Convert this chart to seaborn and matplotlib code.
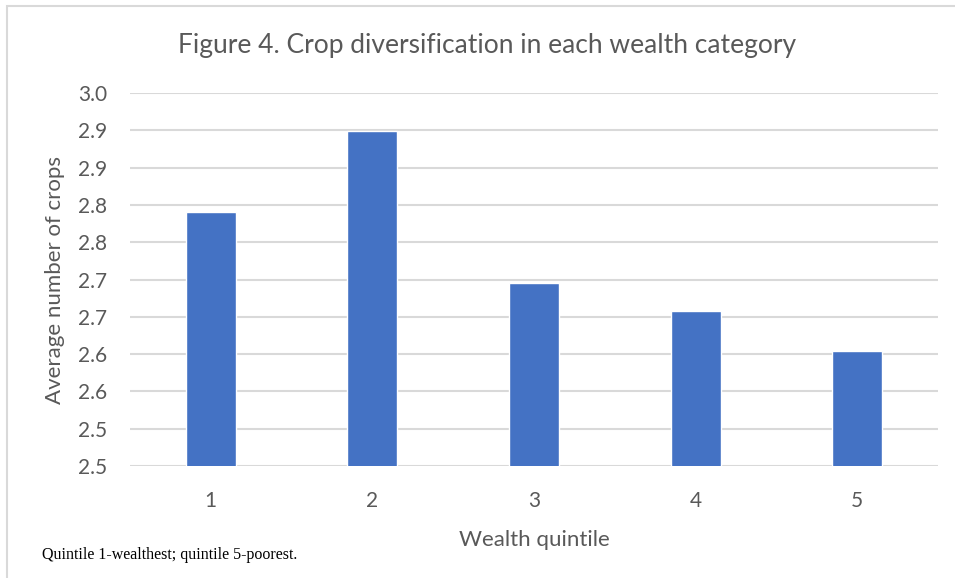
import numpy as np
import pandas as pd
import matplotlib
matplotlib.use("Agg")
from matplotlib import pyplot as plt
from matplotlib.patches import Rectangle
import seaborn as sns

# values
quintiles = ["1", "2", "3", "4", "5"]
avg_crops = [2.841, 2.949, 2.746, 2.708, 2.654]
y_ticks = [2.50, 2.55, 2.60, 2.65, 2.70, 2.75, 2.80, 2.85, 2.90, 2.95, 3.00]
y_tick_labels = ["2.5", "2.5", "2.6", "2.6", "2.7", "2.7", "2.8", "2.8", "2.9", "2.9", "3.0"]

df = pd.DataFrame({"quintile": quintiles, "crops": avg_crops})

sns.set_style("white")
plt.rcParams["font.family"] = ["Lato", "DejaVu Sans"]
text_col = "#595959"
grid_col = "#D9D9D9"

fig = plt.figure(figsize=(9.55, 5.78), dpi=100)
ax = fig.add_axes([0.1361, 0.1938, 0.8461, 0.6452])

sns.barplot(data=df, x="quintile", y="crops", color="#4472C4",
            width=0.31, saturation=1, ax=ax, zorder=3)

ax.set_ylim(2.5, 3.0)
ax.set_yticks(y_ticks)
ax.set_yticklabels(y_tick_labels)
ax.set_xlim(-0.5, 4.5)

# Excel-style horizontal gridlines
for t in y_ticks:
    ax.axhline(t, color=grid_col, lw=1.5, zorder=1)

for s in ax.spines.values():
    s.set_visible(False)

ax.tick_params(axis="both", length=0, colors=text_col, labelsize=15)
ax.tick_params(axis="y", pad=16.5)
ax.tick_params(axis="x", pad=18)

ax.set_xlabel("Wealth quintile", fontsize=16, color=text_col, labelpad=14)
ax.set_ylabel("Average number of crops", fontsize=16, color=text_col, labelpad=9)

fig.text(0.510, 0.921, "Figure 4. Crop diversification in each wealth category",
         ha="center", va="center", fontsize=19, color=text_col)

fig.text(0.044, 0.04, "Quintile 1-wealthest; quintile 5-poorest.",
         ha="left", va="center", fontsize=11.5, color="black",
         family="Liberation Serif")

# chart frame
fig.patches.append(Rectangle((0.0073, -0.05), 1.2, 1.04, transform=fig.transFigure,
                             fill=False, edgecolor=grid_col, lw=1.5))

fig.savefig("out.png", dpi=100)
